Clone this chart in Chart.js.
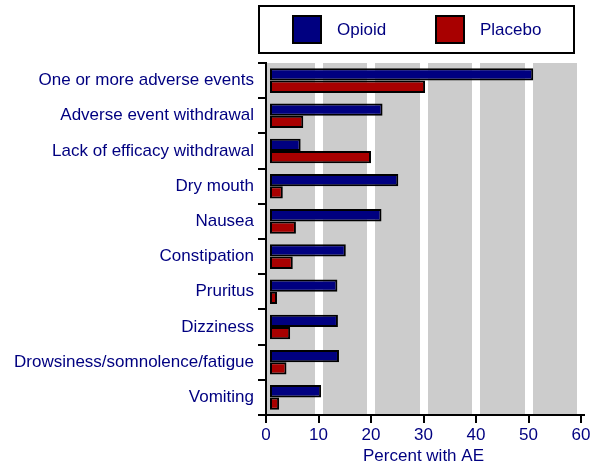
<!DOCTYPE html>
<html>
<head>
<meta charset="utf-8">
<script src="https://cdn.jsdelivr.net/npm/chart.js@4"></script>
<style>
  html, body { margin: 0; padding: 0; background: #fff; }
  #wrap { width: 600px; height: 473px; }
</style>
</head>
<body>
<div id="wrap"><canvas id="chart"></canvas></div>
<script>
const categories = [
  "One or more adverse events",
  "Adverse event withdrawal",
  "Lack of efficacy withdrawal",
  "Dry mouth",
  "Nausea",
  "Constipation",
  "Pruritus",
  "Dizziness",
  "Drowsiness/somnolence/fatigue",
  "Vomiting"
];
const opioidValues = [50.9, 22.2, 6.6, 25.2, 22.0, 15.2, 13.6, 13.7, 13.9, 10.5];
const placeboValues = [30.3, 7.1, 20.0, 3.2, 5.7, 5.1, 2.1, 4.6, 3.9, 2.5];
const xTicks = [0, 10, 20, 30, 40, 50, 60];

const NAVY = "#000080";
const FONT = "'Liberation Sans', Arial, Helvetica, sans-serif";

Chart.defaults.font.family = FONT;
Chart.defaults.font.size = 17;
Chart.defaults.color = NAVY;

// grey plot background, drawn before the grid
const plotBackground = {
  id: "plotBackground",
  beforeDraw(chart) {
    const { ctx, chartArea: a } = chart;
    ctx.save();
    ctx.fillStyle = "#cccccc";
    ctx.fillRect(a.left, a.top, a.right - a.left, a.bottom - a.top);
    ctx.restore();
  }
};

// framed legend above the plot
const boxLegend = {
  id: "boxLegend",
  afterDraw(chart) {
    const ctx = chart.ctx;
    ctx.save();
    ctx.lineWidth = 2;
    ctx.strokeStyle = "#000";
    ctx.strokeRect(259, 6, 315, 47);
    const swatchX = [292, 435];
    chart.data.datasets.forEach((ds, i) => {
      const x = swatchX[i];
      ctx.fillStyle = ds.backgroundColor;
      ctx.fillRect(x, 15, 30, 29);
      ctx.lineWidth = 2;
      ctx.strokeRect(x + 1, 16, 28, 27);
      ctx.fillStyle = NAVY;
      ctx.font = "17px " + FONT;
      ctx.textBaseline = "middle";
      ctx.fillText(ds.label, x + 45, 30);
    });
    ctx.restore();
  }
};

new Chart(document.getElementById("chart"), {
  type: "bar",
  data: {
    labels: categories,
    datasets: [
      {
        label: "Opioid",
        data: opioidValues,
        backgroundColor: "#000080",
        borderColor: "#000",
        borderWidth: 2,
        borderSkipped: false
      },
      {
        label: "Placebo",
        data: placeboValues,
        backgroundColor: "#a80000",
        borderColor: "#000",
        borderWidth: 2,
        borderSkipped: false
      }
    ]
  },
  options: {
    indexAxis: "y",
    responsive: true,
    maintainAspectRatio: false,
    animation: false,
    layout: { padding: { top: 63, right: 19, left: 0, bottom: 6 } },
    datasets: { bar: { categoryPercentage: 0.7, barPercentage: 1.0 } },
    plugins: {
      legend: { display: false },
      tooltip: { enabled: false }
    },
    scales: {
      x: {
        min: 0,
        max: 60,
        afterBuildTicks: (scale) => { scale.ticks = xTicks.map((v) => ({ value: v })); },
        afterFit: (scale) => { scale.height = 52; },
        border: { display: true, color: "#000", width: 2 },
        grid: {
          color: (c) => (c.tick && c.tick.value === 0 ? "rgba(0,0,0,0)" : "#ffffff"),
          lineWidth: 8,
          drawTicks: true,
          tickColor: "#000",
          tickWidth: 2,
          tickLength: 8
        },
        ticks: { color: NAVY, padding: 2, font: { size: 17 } },
        title: {
          display: true,
          text: "Percent with AE",
          color: NAVY,
          font: { size: 17 },
          padding: { top: 0, bottom: 0 }
        }
      },
      y: {
        afterFit: (scale) => { scale.width = 266; },
        border: { display: true, color: "#000", width: 2 },
        grid: {
          drawOnChartArea: false,
          drawTicks: true,
          color: "#000",
          lineWidth: 2,
          tickLength: 8
        },
        ticks: { color: NAVY, padding: 4, font: { size: 17 } }
      }
    }
  },
  plugins: [plotBackground, boxLegend]
});
</script>
</body>
</html>
